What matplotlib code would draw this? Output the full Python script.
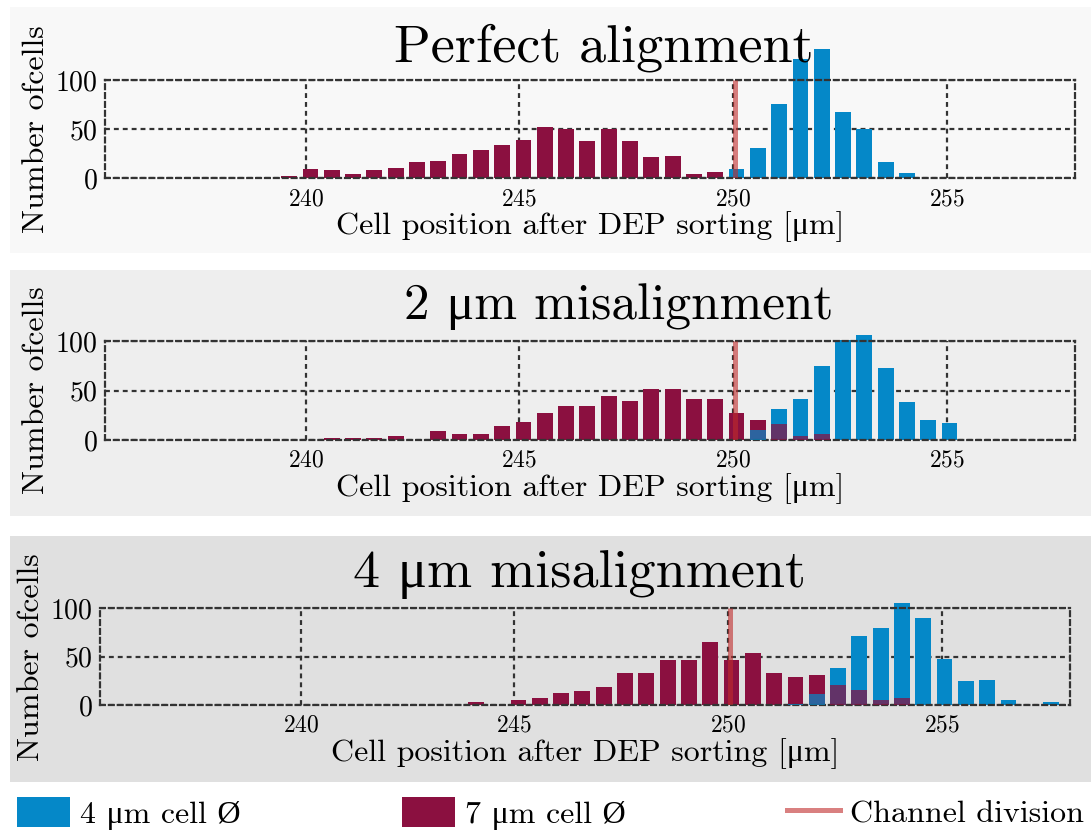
import numpy as np
import matplotlib
matplotlib.use("Agg")
import matplotlib.pyplot as plt
from matplotlib.patches import Rectangle, Patch
from matplotlib.lines import Line2D

plt.rcParams['font.family'] = ['cmr10', 'Liberation Serif']
plt.rcParams['mathtext.fontset'] = 'cm'
plt.rcParams['axes.formatter.use_mathtext'] = True

MU = '\u03bc'

# histogram bins (0.5 um wide)
bin_start = 239.61
bin_step = 0.4985
n_bins = 37
channel_division = 250.04

titles = ['Perfect alignment', '2 ' + MU + 'm misalignment', '4 ' + MU + 'm misalignment']

# counts per bin, 7 um cells
red_perfect = [2, 9, 8, 4, 8, 10, 17, 18, 25, 29, 34, 39, 52, 50, 38, 50, 38, 22, 23, 4,
               6, 0, 0, 0, 0, 0, 0, 0, 0, 0, 0, 0, 0, 0, 0, 0, 0]
red_mis2 = [0, 0, 2, 2, 2, 4, 0, 9, 6, 6, 14, 18, 27, 34, 34, 44, 39, 52, 52, 41,
            41, 27, 20, 16, 4, 6, 0, 0, 0, 0, 0, 0, 0, 0, 0, 0, 0]
red_mis4 = [0, 0, 0, 0, 0, 0, 0, 0, 0, 3, 0, 5, 7, 12, 14, 19, 33, 33, 47, 47,
            65, 47, 54, 33, 29, 31, 21, 16, 5, 7, 0, 0, 0, 0, 0, 0, 0]
# counts per bin, 4 um cells
blue_perfect = [0, 0, 0, 0, 0, 0, 0, 0, 0, 0, 0, 0, 0, 0, 0, 0, 0, 0, 0, 0,
                0, 9, 31, 76, 121, 132, 67, 50, 17, 5, 0, 0, 0, 0, 0, 0, 0]
blue_mis2 = [0, 0, 0, 0, 0, 0, 0, 0, 0, 0, 0, 0, 0, 0, 0, 0, 0, 0, 0, 0,
             0, 0, 10, 31, 41, 75, 101, 106, 73, 38, 20, 17, 0, 0, 0, 0, 0]
blue_mis4 = [0, 0, 0, 0, 0, 0, 0, 0, 0, 0, 0, 0, 0, 0, 0, 0, 0, 0, 0, 0,
             0, 0, 0, 0, 1, 11, 38, 71, 80, 105, 90, 48, 25, 26, 5, 0, 3]

blue_series = [blue_perfect, blue_mis2, blue_mis4]
red_series = [red_perfect, red_mis2, red_mis4]

BLUE = '#0588c8'
RED = '#8b1040'
LINE = '#c02b2b'
GRID = '#333333'
DASH = (0, (2.2, 1.8))
LW = 1.6

W, H = 1091, 833
fig = plt.figure(figsize=(W / 100, H / 100), dpi=100)

# (box top, box bottom, axes left, axes right, axes top, axes bottom,
#  title x, title baseline, title size) in px / pt
layout = [
    (7, 252.7, 105, 1075, 80, 178.3, 604, 61, 39),
    (270, 515.7, 105, 1075, 341, 440, 619, 319, 37),
    (536, 781.7, 100, 1070, 608.3, 705, 579, 587, 39),
]
box_colors = ['#f8f8f8', '#eeeeee', '#e0e0e0']

centers = bin_start + bin_step * np.arange(n_bins)

for i, (bt, bb, al, ar, at, ab, tx, ty, ts) in enumerate(layout):
    fig.patches.append(Rectangle((10 / W, 1 - bb / H), (W - 10) / W, (bb - bt) / H,
                                 transform=fig.transFigure, facecolor=box_colors[i],
                                 edgecolor='none', zorder=-5))
    ax = fig.add_axes([al / W, 1 - ab / H, (ar - al) / W, (ab - at) / H])
    ax.set_facecolor('none')

    blue = np.array(blue_series[i])
    red = np.array(red_series[i])
    # taller bar opaque, shorter one drawn in front with some transparency
    tall = np.maximum(blue, red)
    short = np.minimum(blue, red)
    tall_col = [BLUE if b >= r else RED for b, r in zip(blue, red)]
    short_col = [RED if b >= r else BLUE for b, r in zip(blue, red)]
    ax.bar(centers, tall, width=0.37, color=tall_col, clip_on=False, zorder=2)
    ax.bar(centers, short, width=0.37, color=short_col, alpha=0.7, clip_on=False, zorder=3)
    ax.plot([channel_division, channel_division], [0, 100], color=LINE, alpha=0.6,
            lw=3.6, zorder=4, solid_capstyle='butt')

    ax.set_xlim(235.3, 258.0)
    ax.set_ylim(0, 100)
    ax.set_xticks([240, 245, 250, 255])
    ax.set_yticks([0, 50, 100])
    ax.grid(True, color=GRID, linestyle=DASH, lw=LW, zorder=1)
    ax.set_axisbelow(True)
    for sp in ax.spines.values():
        sp.set_linestyle(DASH)
        sp.set_linewidth(LW)
        sp.set_color(GRID)
    ax.tick_params(axis='x', length=0, labelsize=17, pad=7)
    ax.tick_params(axis='y', length=0, labelsize=20, pad=5)
    ax.set_xlabel('Cell position after DEP sorting [' + MU + 'm]', fontsize=23, labelpad=1)
    ax.set_ylabel('Number ofcells', fontsize=23, labelpad=4)

    fig.text(tx / W, 1 - ty / H, titles[i], fontsize=ts, ha='center', va='baseline')

handles = [Patch(facecolor=BLUE, edgecolor='none'),
           Patch(facecolor=RED, edgecolor='none'),
           Line2D([0], [0], color=LINE, alpha=0.6, lw=3.6)]
labels = ['4 ' + MU + 'm cell \u00d8', '7 ' + MU + 'm cell \u00d8', 'Channel division']
fig.legend(handles, labels, loc='lower left', ncol=3, mode='expand',
           bbox_to_anchor=(14 / W, 0.0, (W - 18) / W, 45 / H), frameon=False,
           fontsize=23, handlelength=1.66, handleheight=1.1, handletextpad=0.31,
           borderaxespad=0, borderpad=0.1)

fig.savefig('out.png', dpi=100)
